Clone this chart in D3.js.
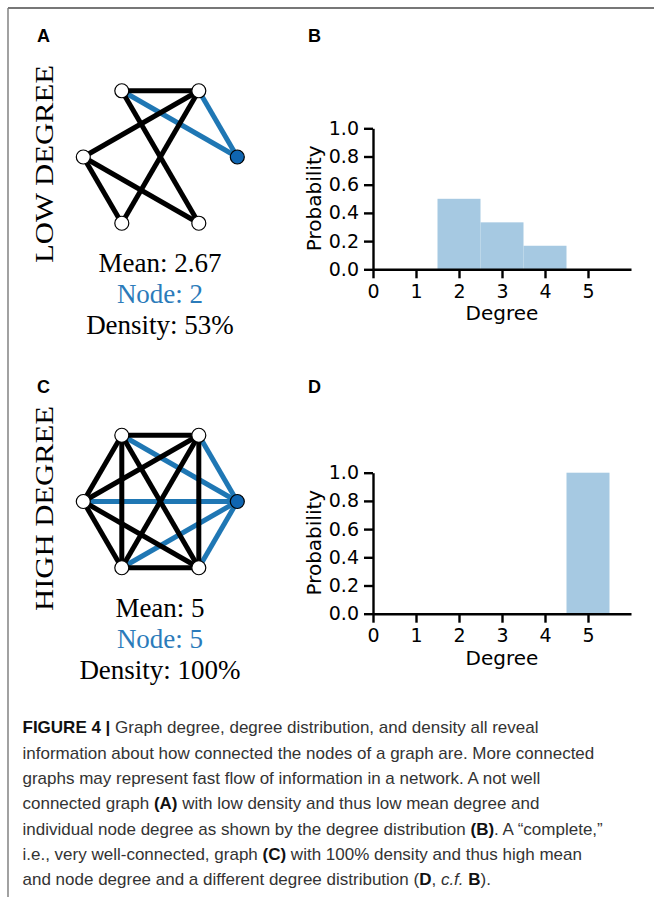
<!DOCTYPE html>
<html>
<head>
<meta charset="utf-8">
<script src="https://cdn.jsdelivr.net/npm/d3@7"></script>
<style>
  body { margin: 0; background: #fff; }
  svg { display: block; }
</style>
</head>
<body>
<div id="fig"></div>
<script>
// ---- data ----
var degreeTicks = [0, 1, 2, 3, 4, 5];
var probTicks = [0.0, 0.2, 0.4, 0.6, 0.8, 1.0];

var lowDegrees = [2, 3, 4];
var lowProbs = [0.5, 0.333, 0.167];
var highDegrees = [5];
var highProbs = [1.0];

// hexagon layout, node 0 is the highlighted (blue) node on the right
var nodeX = [1, 0.5, -0.5, -1, -0.5, 0.5];
var nodeY = [0, 0.866, 0.866, 0, -0.866, -0.866];

var lowEdges = [[0, 1], [0, 2], [1, 2], [1, 3], [1, 4], [2, 5], [3, 4], [3, 5]];
var highEdges = [[0, 1], [0, 2], [0, 3], [0, 4], [0, 5],
                 [1, 2], [1, 3], [1, 4], [1, 5],
                 [2, 3], [2, 4], [2, 5],
                 [3, 4], [3, 5],
                 [4, 5]];

var lowStats = ["Mean: 2.67", "Node: 2", "Density: 53%"];
var highStats = ["Mean: 5", "Node: 5", "Density: 100%"];

var panelLetters = ["A", "B", "C", "D"];

var blue = "#1f77b4";
var barBlue = "#a6c9e2";

var svg = d3.select("#fig").append("svg")
  .attr("width", 654)
  .attr("height", 897);

// frame lines
svg.append("line").attr("x1", 8).attr("x2", 654).attr("y1", 8).attr("y2", 8)
  .attr("stroke", "#4a4a4a").attr("stroke-width", 1.6);
svg.append("line").attr("x1", 8).attr("x2", 8).attr("y1", 8).attr("y2", 897)
  .attr("stroke", "#7a7a7a").attr("stroke-width", 1.4);

// panel letters
svg.selectAll(".panelLetter")
  .data(panelLetters)
  .enter()
  .append("text")
  .attr("class", "panelLetter")
  .attr("x", (d, i) => i % 2 == 0 ? 37 : 308)
  .attr("y", (d, i) => i < 2 ? 42 : 393)
  .style("font-family", "Liberation Sans, Arial, sans-serif")
  .style("font-weight", "bold")
  .style("font-size", "18px")
  .text(d => d);

function drawGraph(cy, edges, stats, sideLabel, sideLen) {
  var g = svg.append("g");
  var x = d3.scaleLinear().domain([-1, 1]).range([160.3 - 77, 160.3 + 77]);
  var y = d3.scaleLinear().domain([-1, 1]).range([cy + 76.5, cy - 76.5]);

  // blue edges first, black ones on top
  var sorted = edges.filter(e => e[0] == 0).concat(edges.filter(e => e[0] != 0));
  g.selectAll("line")
    .data(sorted)
    .enter()
    .append("line")
    .attr("x1", d => x(nodeX[d[0]]))
    .attr("y1", d => y(nodeY[d[0]]))
    .attr("x2", d => x(nodeX[d[1]]))
    .attr("y2", d => y(nodeY[d[1]]))
    .attr("stroke", d => d[0] == 0 ? blue : "#000")
    .attr("stroke-width", 5);

  g.selectAll("circle")
    .data(nodeX)
    .enter()
    .append("circle")
    .attr("cx", d => x(d))
    .attr("cy", (d, i) => y(nodeY[i]))
    .attr("r", 7)
    .attr("fill", (d, i) => i == 0 ? "#0f65b1" : "#fff")
    .attr("stroke", "#000")
    .attr("stroke-width", 1.2);

  g.selectAll(".stat")
    .data(stats)
    .enter()
    .append("text")
    .attr("class", "stat")
    .attr("x", 160)
    .attr("y", (d, i) => cy + 115 + i * 31)
    .attr("text-anchor", "middle")
    .attr("fill", (d, i) => i == 1 ? "#2b7bba" : "#000")
    .style("font-family", "Liberation Serif, Times New Roman, serif")
    .style("font-size", "27px")
    .text(d => d);

  g.append("text")
    .attr("transform", `translate(53, ${cy + 7}) rotate(-90)`)
    .attr("text-anchor", "middle")
    .attr("textLength", sideLen)
    .attr("lengthAdjust", "spacingAndGlyphs")
    .style("font-family", "Liberation Serif, Times New Roman, serif")
    .style("font-size", "26px")
    .text(sideLabel);
}

function drawHist(top, degs, probs) {
  var g = svg.append("g");
  var x = d3.scaleLinear().domain([0, 6]).range([373, 631]);
  var y = d3.scaleLinear().domain([0, 1]).range([top + 141, top]);

  g.selectAll("rect")
    .data(degs)
    .enter()
    .append("rect")
    .attr("x", d => x(d - 0.5))
    .attr("width", d => x(d + 0.5) - x(d - 0.5))
    .attr("y", (d, i) => y(probs[i]))
    .attr("height", (d, i) => y(0) - y(probs[i]))
    .attr("fill", barBlue);

  var xAxis = g.append("g")
    .attr("transform", `translate(0, ${y(0)})`)
    .call(d3.axisBottom(x).tickValues(degreeTicks).tickFormat(d3.format("d"))
      .tickSize(9).tickPadding(6).tickSizeOuter(0));

  var yAxis = g.append("g")
    .attr("transform", `translate(${x(0)}, 0)`)
    .call(d3.axisLeft(y).tickValues(probTicks).tickFormat(d3.format(".1f"))
      .tickSize(9).tickPadding(5).tickSizeOuter(0));

  [xAxis, yAxis].forEach(function(a) {
    a.selectAll("path, line").attr("stroke", "#000").attr("stroke-width", 2.4);
    a.selectAll("text")
      .attr("fill", "#000")
      .style("font-family", "DejaVu Sans, sans-serif")
      .style("font-size", "19px");
  });

  g.append("text")
    .attr("transform", `translate(321, ${top + 70}) rotate(-90)`)
    .attr("text-anchor", "middle")
    .style("font-family", "DejaVu Sans, sans-serif")
    .style("font-size", "20px")
    .text("Probability");

  g.append("text")
    .attr("x", 502)
    .attr("y", top + 192)
    .attr("text-anchor", "middle")
    .style("font-family", "DejaVu Sans, sans-serif")
    .style("font-size", "20px")
    .text("Degree");
}

drawGraph(157, lowEdges, lowStats, "LOW DEGREE", 198);
drawHist(128.3, lowDegrees, lowProbs);
drawGraph(501.5, highEdges, highStats, "HIGH DEGREE", 205);
drawHist(472.7, highDegrees, highProbs);

// caption
var captionLines = [
  [["b", "FIGURE 4 |"], ["n", " Graph degree, degree distribution, and density all reveal"]],
  [["n", "information about how connected the nodes of a graph are. More connected"]],
  [["n", "graphs may represent fast flow of information in a network. A not well"]],
  [["n", "connected graph "], ["b", "(A)"], ["n", " with low density and thus low mean degree and"]],
  [["n", "individual node degree as shown by the degree distribution "], ["b", "(B)"], ["n", ". A \u201ccomplete,\u201d"]],
  [["n", "i.e., very well-connected, graph "], ["b", "(C)"], ["n", " with 100% density and thus high mean"]],
  [["n", "and node degree and a different degree distribution ("], ["b", "D"], ["n", ", "], ["i", "c.f."], ["n", " "], ["b", "B"], ["n", ")."]]
];

var cap = svg.append("g")
  .style("font-family", "Liberation Sans, Arial, sans-serif")
  .style("font-size", "17px")
  .attr("fill", "#333");

captionLines.forEach(function(line, i) {
  var t = cap.append("text")
    .attr("x", 22.5)
    .attr("y", 733.3 + i * 25.3)
    .style("white-space", "pre");
  line.forEach(function(part) {
    t.append("tspan")
      .style("font-weight", part[0] == "b" ? "bold" : "normal")
      .style("font-style", part[0] == "i" ? "italic" : "normal")
      .attr("fill", part[0] == "b" ? "#111" : "#333")
      .text(part[1]);
  });
});
</script>
</body>
</html>
